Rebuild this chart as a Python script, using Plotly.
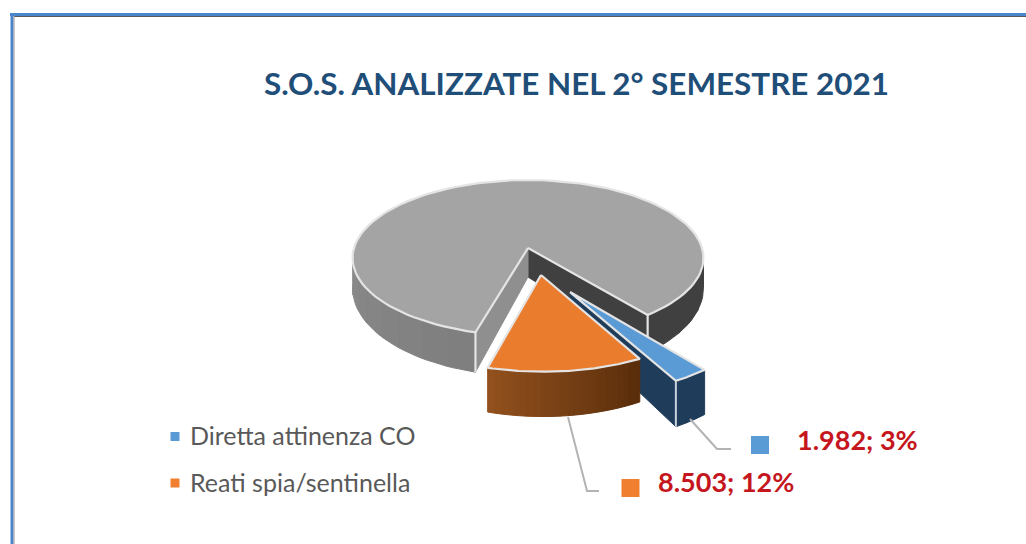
import numpy as np
import plotly.graph_objects as go

# --- data -------------------------------------------------------------
categories = ["Diretta attinenza CO", "Reati spia/sentinella", "Altre"]
values = [1982, 8503, 60000]
title_text = "S.O.S. ANALIZZATE NEL 2° SEMESTRE 2021"

# --- style / layout ---------------------------------------------------
W, H = 1026, 544
START = 141.8
CX, K, A = 528.0, 0.128, 174.0
TOP_Y, TOP_B = 248.0, 76.7
BOT_Y, BOT_B = 277.0, 86.5
OFFSETS = [(0.225, 0.535), (0.0715, 0.337), (0.0, 0.0)]
TOP_COL = ["#5b9bd5", "#ea7c2e", "#a4a4a4"]
RIM = "#e4e4e4"


def proj(u, v, plane):
    u, v = np.asarray(u, float), np.asarray(v, float)
    w = 1 - K * v
    y0, b = (TOP_Y, TOP_B) if plane == "top" else (BOT_Y, BOT_B)
    return CX + A * u / w, y0 + b * v / w


def rim(a0, a1, off, n=60):
    t = np.radians(np.linspace(a0, a1, n))
    return np.sin(t) + off[0], -np.cos(t) + off[1]


def hexmix(c0, c1, f):
    a = [int(c0[i:i + 2], 16) for i in (1, 3, 5)]
    b = [int(c1[i:i + 2], 16) for i in (1, 3, 5)]
    return "#%02x%02x%02x" % tuple(round(p + (q - p) * f) for p, q in zip(a, b))


fig = go.Figure()


def poly(x, y, fill, line=None, width=1.0):
    fig.add_trace(go.Scatter(
        x=list(x) + [x[0]], y=list(y) + [y[0]], mode="lines", fill="toself",
        fillcolor=fill, line=dict(color=line or fill, width=width),
        hoverinfo="skip", showlegend=False))


def edge(x, y, color=RIM, width=2.2):
    fig.add_trace(go.Scatter(x=list(x), y=list(y), mode="lines",
                             line=dict(color=color, width=width),
                             hoverinfo="skip", showlegend=False))


def wall(a0, a1, off, c0, c1, n=24):
    edges = np.linspace(a0, a1, n + 1)
    for i in range(n):
        u, v = rim(edges[i], edges[i + 1], off, 6)
        xt, yt = proj(u, v, "top")
        xb, yb = proj(u, v, "bot")
        poly(list(xt) + list(xb[::-1]), list(yt) + list(yb[::-1]),
             hexmix(c0, c1, i / max(n - 1, 1)))


def cut(a, off, color):
    u, v = rim(a, a, off, 1)
    xt, yt = proj(u, v, "top")
    xb, yb = proj(u, v, "bot")
    ax, ay = proj([off[0]], [off[1]], "top")
    bx, by = proj([off[0]], [off[1]], "bot")
    poly([ax[0], xt[0], xb[0], bx[0]], [ay[0], yt[0], yb[0], by[0]], color)
    return xt[0], yt[0], xb[0], yb[0]


def top(a0, a1, off, color):
    u, v = rim(a0, a1, off, 120)
    x, y = proj(u, v, "top")
    ax, ay = proj([off[0]], [off[1]], "top")
    poly([ax[0]] + list(x), [ay[0]] + list(y), color, RIM, 2.2)
    return x, y


total = sum(values)
spans = [val / total * 360 for val in values]
angles = [START]
for s in spans:
    angles.append(angles[-1] + s)

# grey slice: walls, cut faces, top
g0, g1 = angles[2], angles[3]
wall(g1 - 360 - 60, g1 - 360, OFFSETS[2], "#404040", "#404040", 4)
wall(g0, g0 + 90, OFFSETS[2], "#7f7f7f", "#8c8c8c", 10)
rx = cut(g1, OFFSETS[2], "#404040")
lx = cut(g0, OFFSETS[2], "#8f8f8f")
top(g0, g1, OFFSETS[2], TOP_COL[2])
edge(rx[0:1] + rx[2:3], rx[1:2] + rx[3:4])
edge(lx[0:1] + lx[2:3], lx[1:2] + lx[3:4])

# blue slice walls
b0, b1 = angles[0], angles[1]
cut(b1, OFFSETS[0], "#1f3d5b")
wall(b0, b1, OFFSETS[0], "#1f3d5b", "#1f3d5b", 3)
u, v = rim(b1, b1, OFFSETS[0], 1)
xt, yt = proj(u, v, "top")
xb, yb = proj(u, v, "bot")

# orange slice
o0, o1 = angles[1], angles[2]
wall(o0, o1, OFFSETS[1], "#5a2e0b", "#91501d", 24)
top(o0, o1, OFFSETS[1], TOP_COL[1])

# blue top
top(b0, b1, OFFSETS[0], TOP_COL[0])
edge([xt[0], xb[0]], [yt[0], yb[0]], "#c9d2da", 2)

# leader lines
edge([690, 717, 731], [419, 449, 449], "#b3b3b3", 2)
edge([568, 587, 599], [417, 491, 491], "#b3b3b3", 2)

# data-label keys and legend keys
fig.add_trace(go.Scatter(
    x=[760, 630.5, 175, 175], y=[445, 488, 436.5, 483],
    mode="markers",
    marker=dict(symbol="square", size=[18, 18, 9, 9], opacity=1,
                color=[TOP_COL[0], "#f08030", TOP_COL[0], "#f08030"],
                line=dict(width=0)),
    hoverinfo="skip", showlegend=False))


def it_num(n):
    return f"{n:,}".replace(",", ".")


def label(i):
    return f"{it_num(values[i])}; {round(values[i] / total * 100)}%"


annos = [
    dict(x=576, y=83, text=f"<b>{title_text}</b>", xanchor="center",
         font=dict(family="Lato", size=31.4, color="#1f4e79")),
    dict(x=795, y=439, text=f"<b>{label(0)}</b>", xanchor="left",
         font=dict(family="Lato", size=27, color="#c5161d")),
    dict(x=656, y=481, text=f"<b>{label(1)}</b>", xanchor="left",
         font=dict(family="Lato", size=27, color="#c5161d")),
    dict(x=188, y=435, text=categories[0], xanchor="left",
         font=dict(family="Lato", size=25, color="#595959")),
    dict(x=188, y=482, text=categories[1], xanchor="left",
         font=dict(family="Lato", size=25, color="#595959")),
]
for a in annos:
    a.update(xref="x", yref="y", yanchor="middle", showarrow=False)

frame = [
    dict(type="line", x0=10, x1=W, y0=14.5, y1=14.5, line=dict(color="#4a86cc", width=3)),
    dict(type="line", x0=12, x1=12, y0=13, y1=H, line=dict(color="#4a86cc", width=3)),
    dict(type="line", x0=14, x1=W, y0=16.5, y1=16.5, line=dict(color="#5a5a5a", width=1)),
    dict(type="line", x0=14, x1=14, y0=16, y1=H, line=dict(color="#9a9a9a", width=1)),
]

fig.update_layout(
    width=W, height=H, margin=dict(l=0, r=0, t=0, b=0),
    paper_bgcolor="white", plot_bgcolor="white",
    xaxis=dict(visible=False, range=[0, W], fixedrange=True),
    yaxis=dict(visible=False, range=[H, 0], fixedrange=True),
    annotations=annos, shapes=frame, showlegend=False,
)
fig.write_html("out.html", post_script="document.body.style.margin='0';",
               config={"displayModeBar": False})
